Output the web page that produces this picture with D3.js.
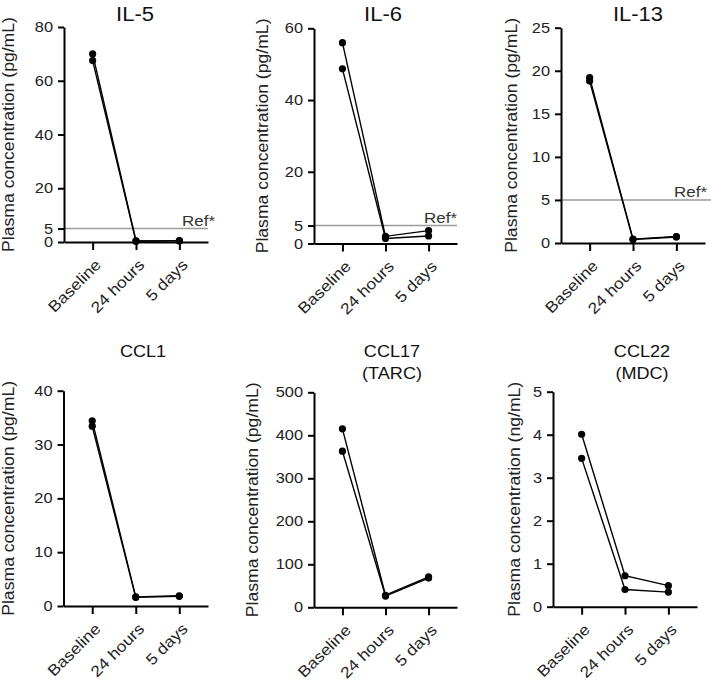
<!DOCTYPE html>
<html>
<head>
<meta charset="utf-8">
<script src="https://cdn.jsdelivr.net/npm/d3@7"></script>
<style>
  html, body { margin: 0; padding: 0; background: #fff; }
  svg { display: block; font-family: Arial, "Liberation Sans", Helvetica, sans-serif; }
</style>
</head>
<body>
<svg id="chart" width="711" height="680"></svg>
<script>
// ---------- data ----------
const categories = ["Baseline", "24 hours", "5 days"];

const il5_a = [70.0, 0.4, 0.5];
const il5_b = [67.5, 0.3, 0.4];
const il5_ticks = [0, 5, 20, 40, 60, 80];

const il6_a = [56.0, 2.0, 3.6];
const il6_b = [48.7, 1.4, 2.1];
const il6_ticks = [0, 5, 20, 40, 60];

const il13_a = [19.2, 0.45, 0.75];
const il13_b = [18.8, 0.4, 0.7];
const il13_ticks = [0, 5, 10, 15, 20, 25];

const ccl1_a = [34.4, 1.7, 1.9];
const ccl1_b = [33.4, 1.6, 1.8];
const ccl1_ticks = [0, 10, 20, 30, 40];

const ccl17_a = [415, 28, 71];
const ccl17_b = [363, 26, 68];
const ccl17_ticks = [0, 100, 200, 300, 400, 500];

const ccl22_a = [4.01, 0.72, 0.49];
const ccl22_b = [3.45, 0.40, 0.34];
const ccl22_ticks = [0, 1, 2, 3, 4, 5];

const refValue = 5;
const refLabel = "Ref*";

// ---------- layout ----------
const SX = 1.13; // horizontal glyph stretch of the reference typeface
const FONT = "Arial, 'Liberation Sans', Helvetica, sans-serif";

const panels = [
  { title: ["IL-5"], big: true, series: [il5_a, il5_b], ticks: il5_ticks, unit: "(pg/mL)", ref: true,
    x0: 64, x1: 208, y0: 242, y1: 27, titleX: 135, titleY: 21, labelX: 14, refEnd: 208, refLabelX: 215 },
  { title: ["IL-6"], big: true, series: [il6_a, il6_b], ticks: il6_ticks, unit: "(pg/mL)", ref: true,
    x0: 314, x1: 457, y0: 243.5, y1: 28.3, titleX: 383, titleY: 21, labelX: 268, refEnd: 457, refLabelX: 457 },
  { title: ["IL-13"], big: true, series: [il13_a, il13_b], ticks: il13_ticks, unit: "(pg/mL)", ref: true,
    x0: 561, x1: 705, y0: 243, y1: 27.7, titleX: 638, titleY: 21, labelX: 516.5, refEnd: 711, refLabelX: 707 },
  { title: ["CCL1"], big: false, series: [ccl1_a, ccl1_b], ticks: ccl1_ticks, unit: "(pg/mL)", ref: false,
    x0: 63.5, x1: 208, y0: 606, y1: 390.7, titleX: 143, titleY: 357, labelX: 14 },
  { title: ["CCL17", "(TARC)"], big: false, series: [ccl17_a, ccl17_b], ticks: ccl17_ticks, unit: "(pg/mL)", ref: false,
    x0: 314, x1: 457, y0: 607.3, y1: 392.3, titleX: 392, titleY: 357, labelX: 258 },
  { title: ["CCL22", "(MDC)"], big: false, series: [ccl22_a, ccl22_b], ticks: ccl22_ticks, unit: "(ng/mL)", ref: false,
    x0: 553, x1: 697, y0: 606.7, y1: 391.7, titleX: 642, titleY: 357, labelX: 519.5 }
];

const svg = d3.select("#chart");

panels.forEach(p => {
  const g = svg.append("g");
  const x = d3.scalePoint().domain(categories).range([p.x0, p.x1]).padding(0.66);
  const yMax = d3.max(p.ticks);
  const y = d3.scaleLinear().domain([0, yMax]).range([p.y0, p.y1]);

  // reference line
  if (p.ref) {
    g.append("line")
      .attr("x1", p.x0).attr("x2", p.refEnd)
      .attr("y1", y(refValue)).attr("y2", y(refValue))
      .attr("stroke", "#9a9a9a").attr("stroke-width", 1.6);
    g.append("text")
      .attr("transform", `translate(${p.refLabelX},${y(refValue) - 3}) scale(${SX},1)`)
      .attr("text-anchor", "end")
      .attr("font-family", FONT)
      .attr("font-size", 15).attr("fill", "#333")
      .text(refLabel);
  }

  // y axis
  const tickSize = 6, tickPad = 5;
  const ya = g.append("g")
    .attr("transform", `translate(${p.x0},0)`)
    .call(d3.axisLeft(y).tickValues(p.ticks).tickSize(tickSize).tickSizeOuter(0).tickPadding(tickPad).tickFormat(d3.format("d")));
  ya.select(".domain").attr("stroke", "#000").attr("stroke-width", 2);
  ya.selectAll(".tick line").attr("stroke", "#000").attr("stroke-width", 2);
  ya.selectAll(".tick text")
    .attr("font-size", 14.5).attr("fill", "#222")
    .attr("font-family", FONT)
    .attr("x", 0)
    .attr("transform", `translate(${-(tickSize + tickPad)},0) scale(${SX},1)`);

  // x axis
  const xa = g.append("g")
    .attr("transform", `translate(0,${p.y0})`)
    .call(d3.axisBottom(x).tickSize(8).tickSizeOuter(0));
  xa.select(".domain").attr("stroke", "#000").attr("stroke-width", 2);
  xa.selectAll(".tick line").attr("stroke", "#000").attr("stroke-width", 2);
  xa.selectAll(".tick text")
    .attr("font-size", 15.5).attr("fill", "#222")
    .attr("font-family", FONT)
    .attr("x", 0).attr("y", 0).attr("dy", "0.35em")
    .attr("text-anchor", "end")
    .attr("transform", `translate(5,20) rotate(-45) scale(${SX},1)`);

  // y label
  g.append("text")
    .attr("transform", `translate(${p.labelX},${(p.y0 + p.y1) / 2}) rotate(-90) scale(${SX},1)`)
    .attr("text-anchor", "middle")
    .attr("font-family", FONT)
    .attr("font-size", 15.6).attr("fill", "#222")
    .text("Plasma concentration " + p.unit);

  // title
  const t = g.append("text")
    .attr("transform", `translate(${p.titleX},${p.titleY}) scale(${SX},1)`)
    .attr("text-anchor", "middle")
    .attr("font-family", FONT)
    .attr("font-size", p.big ? 19.5 : 16).attr("fill", "#111");
  p.title.forEach((line, i) => {
    t.append("tspan").attr("x", 0).attr("dy", i === 0 ? 0 : 22).text(line);
  });

  // series
  const line = d3.line().x((d, i) => x(categories[i])).y(d => y(d));
  p.series.forEach(s => {
    g.append("path").datum(s)
      .attr("d", line)
      .attr("fill", "none").attr("stroke", "#000").attr("stroke-width", 1.4);
    g.selectAll(null).data(s).enter().append("circle")
      .attr("cx", (d, i) => x(categories[i]))
      .attr("cy", d => y(d))
      .attr("r", 3.6)
      .attr("fill", "#000");
  });
});
</script>
</body>
</html>
